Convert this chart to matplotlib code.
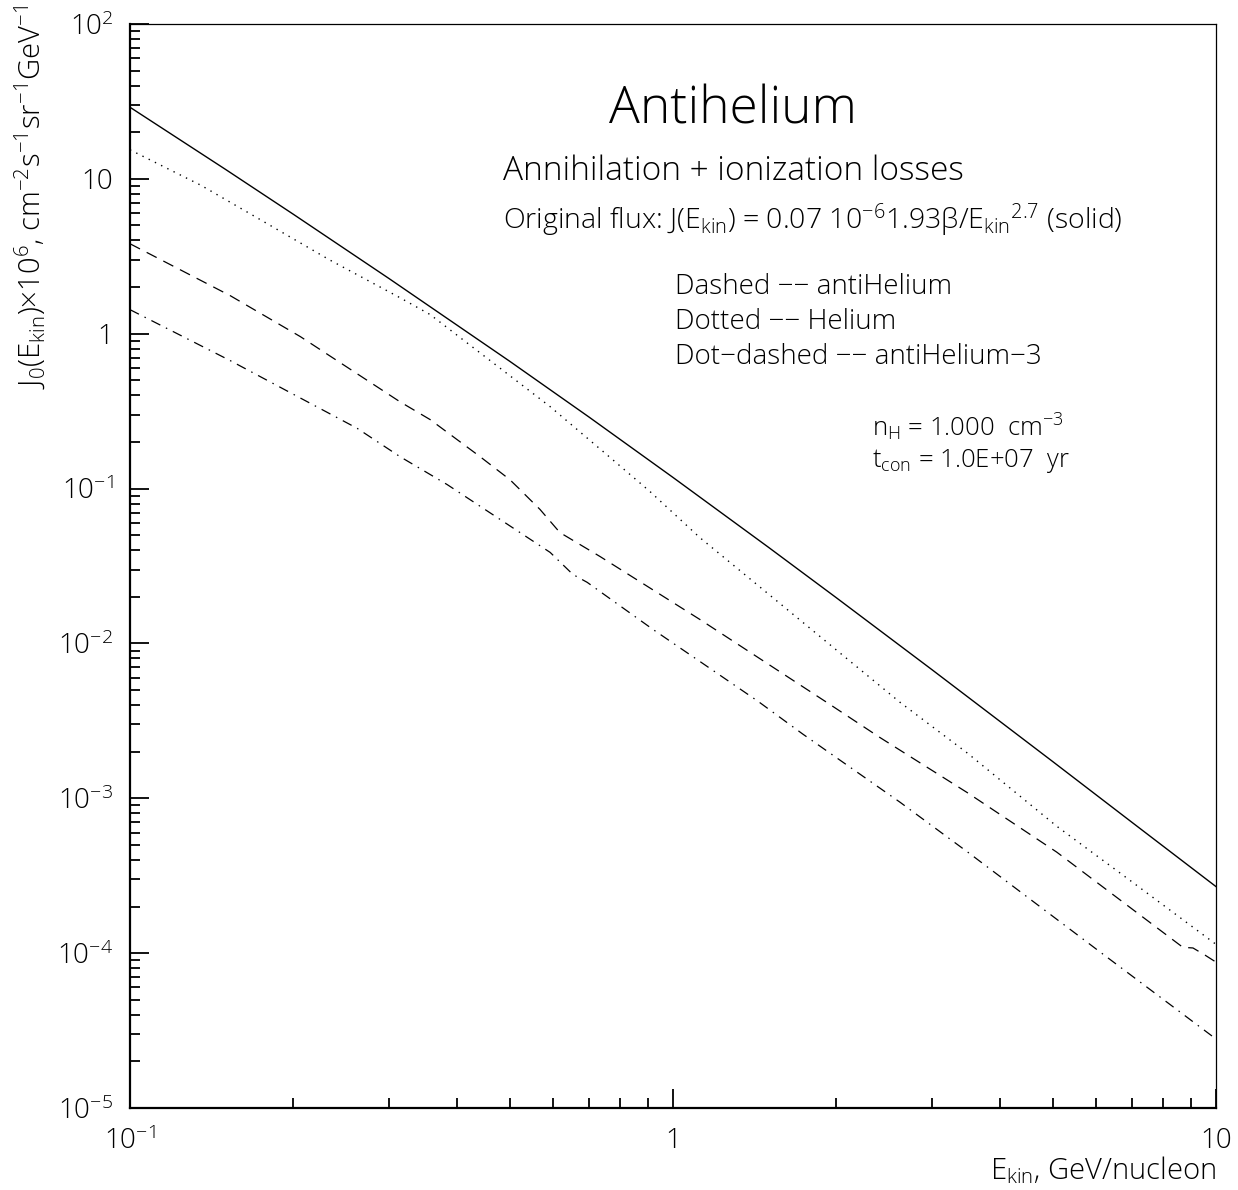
import numpy as np
import matplotlib
matplotlib.use("Agg")
import matplotlib.pyplot as plt
from matplotlib.ticker import FixedLocator, FixedFormatter, NullFormatter

# kinetic energy per nucleon (GeV) and flux J0 x 1e6
E_solid = [0.1, 0.15, 0.2, 0.3, 0.5, 0.7, 1.0, 1.5, 2.0, 3.0, 5.0, 7.0, 10.0]
J_solid = [29.0, 11.5, 5.90, 2.27, 0.665, 0.290, 0.118, 0.0417, 0.0197,
           0.00676, 0.00173, 7.0e-4, 2.69e-4]

E_helium = [0.1, 0.135, 0.17, 0.233, 0.314, 0.357, 0.48, 0.594, 0.75, 0.907,
            1.12, 1.5, 2.0, 2.62, 3.49, 5.09, 7.0, 10.0]
J_helium = [15.4, 9.1, 5.7, 3.0, 1.71, 1.33, 0.60, 0.338, 0.169, 0.0957,
            0.0483, 0.0208, 0.00906, 0.00416, 0.00195, 6.6e-4, 2.89e-4, 1.14e-4]

E_antihe = [0.1, 0.153, 0.206, 0.314, 0.357, 0.441, 0.501, 0.569, 0.619, 0.734,
            1.12, 1.92, 2.40, 3.48, 5.09, 8.69, 9.07, 9.55, 10.0]
J_antihe = [3.81, 1.76, 0.957, 0.364, 0.279, 0.161, 0.114, 0.0733, 0.052, 0.0364,
            0.0143, 0.00416, 0.00248, 0.00109, 4.49e-4, 1.09e-4, 1.08e-4, 9.7e-5, 8.75e-5]

E_antihe3 = [0.1, 0.153, 0.262, 0.314, 0.384, 0.594, 0.654, 0.695, 0.919, 1.12,
             1.434, 1.736, 2.62, 3.49, 6.19, 10.0]
J_antihe3 = [1.43, 0.67, 0.245, 0.161, 0.106, 0.0387, 0.0279, 0.0248, 0.0123, 0.00766,
             0.00423, 0.00259, 9.42e-4, 4.49e-4, 9.86e-5, 2.79e-5]

y_major = [1e-5, 1e-4, 1e-3, 1e-2, 1e-1, 1, 10, 100]
y_labels = [r'$10^{-5}$', r'$10^{-4}$', r'$10^{-3}$', r'$10^{-2}$', r'$10^{-1}$', '1', '10', r'$10^{2}$']
x_major = [0.1, 1, 10]
x_labels = [r'$10^{-1}$', '1', '10']

plt.rcParams['font.family'] = ['Open Sans', 'DejaVu Sans']
plt.rcParams['font.weight'] = 'light'
plt.rcParams['mathtext.fontset'] = 'custom'
plt.rcParams['mathtext.rm'] = 'Open Sans:light'
plt.rcParams['mathtext.it'] = 'Open Sans:light'
plt.rcParams['mathtext.bf'] = 'Open Sans:bold'

W, H = 1238, 1190
fig = plt.figure(figsize=(W / 100, H / 100), dpi=100)


def fx(x):
    return x / W


def fy(y):
    return 1 - y / H


ax = fig.add_axes([fx(130), fy(1108), fx(1216) - fx(130), fy(24) - fy(1108)])
ax.set_xscale('log')
ax.set_yscale('log')
ax.set_xlim(0.1, 10)
ax.set_ylim(1e-5, 100)

ax.plot(E_solid, J_solid, color='black', lw=1.0)
ax.plot(E_helium, J_helium, color='black', lw=1.0, linestyle=(0, (1, 4)))
ax.plot(E_antihe, J_antihe, color='black', lw=0.9, linestyle=(0, (9, 6)))
ax.plot(E_antihe3, J_antihe3, color='black', lw=0.9, linestyle=(0, (8, 5, 1.2, 5)))

# axes frame and ticks in the old PAW style
for s in ['left', 'bottom']:
    ax.spines[s].set_linewidth(1.6)
for s in ['top', 'right']:
    ax.spines[s].set_linewidth(0.9)

minors_y = [m * 10.0 ** k for k in range(-5, 2) for m in range(2, 10)]
minors_x = [m * 10.0 ** k for k in range(-1, 1) for m in range(2, 10)]
ax.yaxis.set_major_locator(FixedLocator(y_major))
ax.yaxis.set_major_formatter(FixedFormatter(y_labels))
ax.yaxis.set_minor_locator(FixedLocator(minors_y))
ax.yaxis.set_minor_formatter(NullFormatter())
ax.xaxis.set_major_locator(FixedLocator(x_major))
ax.xaxis.set_major_formatter(FixedFormatter(x_labels))
ax.xaxis.set_minor_locator(FixedLocator(minors_x))
ax.xaxis.set_minor_formatter(NullFormatter())
ax.tick_params(which='both', direction='in', top=False, right=False, width=1.3,
               labelsize=20, colors='black')
ax.tick_params(which='major', length=14)
ax.tick_params(which='minor', length=7.5)
ax.tick_params(axis='y', which='major', pad=12)
ax.tick_params(axis='x', which='major', pad=14)

M = '\u2212'
fig.text(fx(30), fy(5), r'J$_0$(E$_{\rm kin}$)$\times$10$^6$, cm$^{-2}$s$^{-1}$sr$^{-1}$GeV$^{-1}$',
         rotation=90, ha='center', va='top', fontsize=21)
fig.text(fx(1216), fy(1170), r'E$_{\rm kin}$, GeV/nucleon', ha='right', va='center', fontsize=21)

fig.text(fx(733), fy(110), 'Antihelium', ha='center', va='center', fontsize=37)
fig.text(fx(503), fy(171), 'Annihilation + ionization losses', ha='left', va='center', fontsize=24)
fig.text(fx(503), fy(220),
         r'Original flux: J(E$_{\rm kin}$) = 0.07 10$^{-6}$1.93$\beta$/E$_{\rm kin}$$^{2.7}$ (solid)',
         ha='left', va='center', fontsize=20.5)
fig.text(fx(675), fy(287), f'Dashed {M}{M} antiHelium', ha='left', va='center', fontsize=20)
fig.text(fx(675), fy(322), f'Dotted {M}{M} Helium', ha='left', va='center', fontsize=20)
fig.text(fx(675), fy(357), f'Dot{M}dashed {M}{M} antiHelium{M}3', ha='left', va='center', fontsize=20)
fig.text(fx(872), fy(427), r'n$_{\rm H}$ = 1.000  cm$^{-3}$', ha='left', va='center', fontsize=18.5)
fig.text(fx(872), fy(461), r't$_{\rm con}$ = 1.0E+07  yr', ha='left', va='center', fontsize=18.5)

fig.savefig('out.png', dpi=100)
